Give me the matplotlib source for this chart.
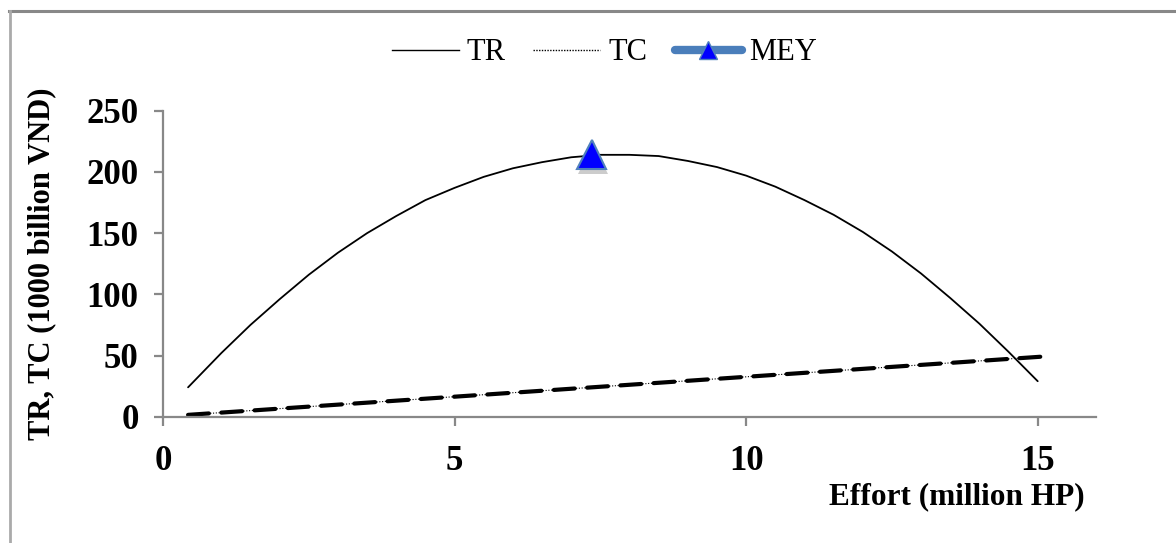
import matplotlib.pyplot as plt
import matplotlib.patheffects as pe
from matplotlib.lines import Line2D

# 資料 (effort, million HP)
effort = [0.43, 1.0, 1.5, 2.0, 2.5, 3.0, 3.5, 4.0, 4.5, 5.0, 5.5, 6.0, 6.5, 7.0, 7.5, 8.0,
          8.5, 9.0, 9.5, 10.0, 10.5, 11.0, 11.5, 12.0, 12.5, 13.0, 13.5, 14.0, 14.5, 15.0]
tr = [24, 52, 75, 96, 116, 134, 150, 164, 177, 187, 196, 203, 208, 212, 214, 214,
      213, 209, 204, 197, 188, 177, 165, 151, 135, 117, 97, 76, 53, 29]
tc_effort = [0.43, 15.05]
tc = [1.5, 49]
mey_effort = [7.35]
mey_value = [214]

fig = plt.figure(figsize=(11.76, 5.43), dpi=100)
ax = fig.add_axes([0.1386, 0.2326, 0.7934, 0.5634])

serif = ['Liberation Serif', 'DejaVu Serif']

ax.plot(effort, tr, color='black', lw=1.3, solid_capstyle='round', solid_joinstyle='round')
ax.plot(tc_effort, tc, color='black', lw=0.8, ls=(0, (1, 1.5)))
ax.plot(tc_effort, tc, color='black', lw=3, ls=(0, (5, 3)), dash_capstyle='round')
ax.plot(mey_effort, mey_value, ls='none', marker='^', ms=21, mfc='#0000ff',
        mec='#4f81bd', mew=1.5,
        path_effects=[pe.SimplePatchShadow(offset=(1, -3), shadow_rgbFace='gray', alpha=0.4), pe.Normal()])

ax.set_xlim(0, 16)
ax.set_ylim(0, 250)
ax.set_xticks([0, 5, 10, 15])
ax.set_yticks([0, 50, 100, 150, 200, 250])
for s in ['top', 'right']:
    ax.spines[s].set_visible(False)
for s in ['left', 'bottom']:
    ax.spines[s].set_color('#888888')
    ax.spines[s].set_linewidth(1.6)
ax.tick_params(direction='out', length=6.5, width=1.6, color='#888888')
ax.tick_params(axis='y', pad=11)
ax.tick_params(axis='x', pad=14)
for lab in ax.get_xticklabels() + ax.get_yticklabels():
    lab.set_family(serif)
    lab.set_fontweight('bold')
    lab.set_fontsize(25)

ax.set_ylabel('TR, TC (1000 billion VND)', family=serif, fontweight='bold', fontsize=22, labelpad=22)
fig.text(1085 / 1176, 1 - 497 / 543, 'Effort (million HP)', family=serif, fontweight='bold',
         fontsize=22.5, ha='right', va='center')

handles = [
    Line2D([], [], color='black', lw=1),
    Line2D([], [], color='black', lw=1, ls=(0, (1, 1))),
    Line2D([], [], color='#4a7ebb', lw=6, solid_capstyle='round', marker='^', ms=13,
           mfc='#0000ff', mec='#4f81bd'),
]
fig.legend(handles, ['TR', 'TC', 'MEY'], loc='center', bbox_to_anchor=(0.514, 1 - 53 / 543),
           ncol=3, frameon=False, prop={'family': serif, 'size': 22},
           handlelength=2.2, handletextpad=0.25, columnspacing=0.9)

# 外框
fig.add_artist(Line2D([9 / 1176, 1], [1 - 11 / 543, 1 - 11 / 543], color='#888888', lw=2.2))
fig.add_artist(Line2D([9.5 / 1176, 9.5 / 1176], [0, 1 - 11 / 543], color='#aaaaaa', lw=2))

fig.savefig('out.png', dpi=100)
